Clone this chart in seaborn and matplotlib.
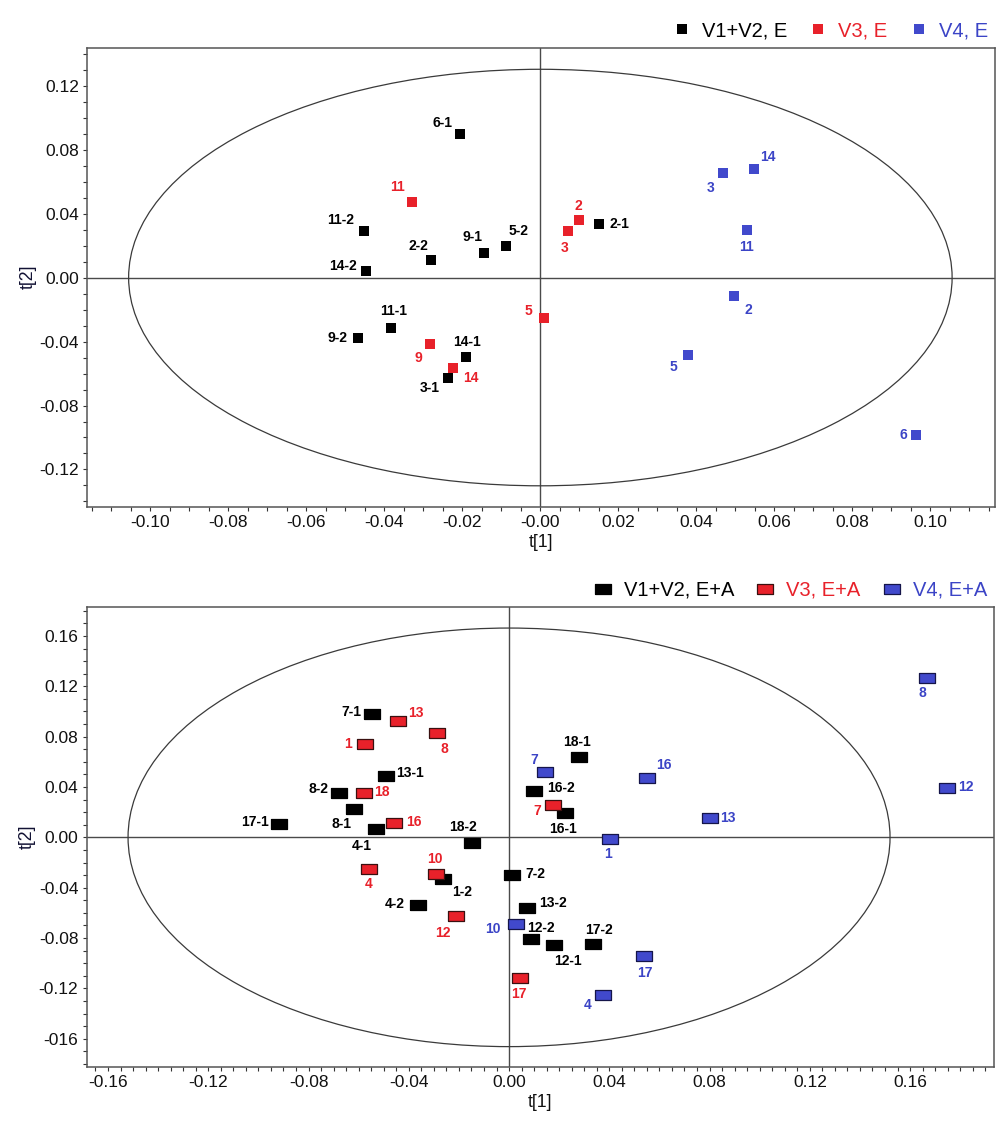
import numpy as np
import pandas as pd
import matplotlib
matplotlib.use("Agg")
import matplotlib.pyplot as plt
from matplotlib.patches import Ellipse
from matplotlib.lines import Line2D
from matplotlib.ticker import MultipleLocator, FixedLocator, FixedFormatter
import seaborn as sns

# ---------------- DATA ----------------
# Top panel (E)
top_v12_names = ["6-1", "11-2", "14-2", "2-2", "9-1", "5-2", "2-1", "11-1", "9-2", "14-1", "3-1"]
top_v12_t1 = [-0.0206, -0.0452, -0.0447, -0.0280, -0.0144, -0.0088, 0.0151, -0.0384, -0.0467, -0.0191, -0.0236]
top_v12_t2 = [0.0900, 0.0288, 0.0041, 0.0108, 0.0155, 0.0198, 0.0336, -0.0314, -0.0381, -0.0499, -0.0628]

top_v3_names = ["11", "9", "14", "2", "3", "5"]
top_v3_t1 = [-0.0328, -0.0283, -0.0223, 0.0099, 0.0070, 0.0009]
top_v3_t2 = [0.0473, -0.0418, -0.0564, 0.0357, 0.0293, -0.0252]

top_v4_names = ["3", "14", "11", "2", "5", "6"]
top_v4_t1 = [0.0468, 0.0547, 0.0529, 0.0496, 0.0378, 0.0963]
top_v4_t2 = [0.0656, 0.0680, 0.0295, -0.0116, -0.0484, -0.0984]

# Bottom panel (E+A)
bot_v12_names = ["7-1", "13-1", "8-2", "8-1", "17-1", "4-1", "18-2", "1-2", "4-2",
                 "18-1", "16-2", "16-1", "7-2", "13-2", "12-2", "12-1", "17-2"]
bot_v12_t1 = [-0.0545, -0.0492, -0.0678, -0.0620, -0.0916, -0.0532, -0.0146, -0.0262, -0.0364,
              0.0281, 0.0101, 0.0223, 0.0012, 0.0071, 0.0088, 0.0180, 0.0336]
bot_v12_t2 = [0.0981, 0.0489, 0.0350, 0.0227, 0.0105, 0.0068, -0.0045, -0.0333, -0.0540,
              0.0640, 0.0372, 0.0196, -0.0296, -0.0560, -0.0810, -0.0856, -0.0847]

bot_v3_names = ["13", "8", "1", "18", "16", "4", "10", "12", "7", "17"]
bot_v3_t1 = [-0.0443, -0.0287, -0.0573, -0.0578, -0.0458, -0.0558, -0.0290, -0.0211, 0.0177, 0.0044]
bot_v3_t2 = [0.0924, 0.0833, 0.0745, 0.0355, 0.0111, -0.0253, -0.0290, -0.0625, 0.0256, -0.1117]

bot_v4_names = ["7", "16", "13", "1", "8", "12", "10", "17", "4"]
bot_v4_t1 = [0.0144, 0.0549, 0.0803, 0.0403, 0.1666, 0.1746, 0.0027, 0.0540, 0.0374]
bot_v4_t2 = [0.0523, 0.0475, 0.0154, -0.0017, 0.1265, 0.0395, -0.0691, -0.0941, -0.1251]

top_groups = ["V1+V2, E", "V3, E", "V4, E"]
bot_groups = ["V1+V2, E+A", "V3, E+A", "V4, E+A"]

top_xticks = [-0.10, -0.08, -0.06, -0.04, -0.02, 0.0, 0.02, 0.04, 0.06, 0.08, 0.10]
top_xticklabels = ["-0.10", "-0.08", "-0.06", "-0.04", "-0.02", "-0.00", "0.02", "0.04", "0.06", "0.08", "0.10"]
top_yticks = [-0.12, -0.08, -0.04, 0.0, 0.04, 0.08, 0.12]
top_yticklabels = ["-0.12", "-0.08", "-0.04", "0.00", "0.04", "0.08", "0.12"]
bot_xticks = [-0.16, -0.12, -0.08, -0.04, 0.0, 0.04, 0.08, 0.12, 0.16]
bot_xticklabels = ["-0.16", "-0.12", "-0.08", "-0.04", "0.00", "0.04", "0.08", "0.12", "0.16"]
bot_yticks = [-0.16, -0.12, -0.08, -0.04, 0.0, 0.04, 0.08, 0.12, 0.16]
bot_yticklabels = ["-016", "-0.12", "-0.08", "-0.04", "0.00", "0.04", "0.08", "0.12", "0.16"]

# Hotelling ellipse semi-axes
top_ellipse = (0.1056, 0.1302)
bot_ellipse = (0.1520, 0.1663)

# ---------------- STYLE (label offsets in pixels: dx right, dy down) ----------------
top_v12_off = [(-18, -11), (-24, -11), (-23, -5), (-13, -14), (-12, -16), (12, -15), (20, 0),
               (3, -17), (-21, 0), (1, -15), (-19, 10)]
top_v3_off = [(-15, -15), (-12, 14), (17, 10), (-1, -14), (-3, 17), (-15, -7)]
top_v4_off = [(-12, 15), (14, -12), (0, 17), (15, 14), (-14, 12), (-12, 0)]
bot_v12_off = [(-21, -2), (24, -3), (-21, -4), (-12, 15), (-24, -2), (-14, 17), (-10, -16), (19, 13),
               (-23, -1), (-2, -15), (27, -3), (-2, 16), (23, -1), (26, -5), (10, -11), (14, 16), (6, -14)]
bot_v3_off = [(18, -8), (7, 16), (-17, 0), (18, -1), (20, -1), (-1, 15), (-1, -15), (-13, 17), (-16, 6), (-1, 16)]
bot_v4_off = [(-11, -12), (17, -13), (18, 0), (-2, 15), (-4, 15), (19, -1), (-23, 5), (0, 17), (-15, 10)]

fill_colors = ["#000000", "#e8212a", "#4149cc"]
edge_colors = ["#000000", "#3a1010", "#15154a"]
text_colors = ["#000000", "#e8212a", "#3b44c6"]

DPI = 100
PX = 72.0 / DPI

sns.set_theme(style="white")
plt.rcParams["font.family"] = ["Liberation Sans", "DejaVu Sans"]

fig = plt.figure(figsize=(10, 11.21), dpi=DPI)
ax_top = fig.add_axes([0.0873, 0.5478, 0.9077, 0.4098])
ax_bot = fig.add_axes([0.0867, 0.0485, 0.9076, 0.4101])

rect_marker = [(-1, -0.58), (1, -0.58), (1, 0.58), (-1, 0.58), (-1, -0.58)]


def make_df(groups, names_list, t1_list, t2_list, off_list):
    rows = []
    for g, names, t1, t2, off in zip(groups, names_list, t1_list, t2_list, off_list):
        for n, a, b, o in zip(names, t1, t2, off):
            rows.append({"group": g, "name": n, "t1": a, "t2": b, "dx": o[0], "dy": o[1]})
    return pd.DataFrame(rows)


def draw_panel(ax, df, groups, ell, xlim, ylim, xt, xtl, yt, ytl, marker, msize, edge_lw, hmsize, hpad):
    ax.axhline(0, color="#4a4a4a", lw=1.0, zorder=1)
    ax.axvline(0, color="#4a4a4a", lw=1.0, zorder=1)
    ax.add_patch(Ellipse((0, 0), 2 * ell[0], 2 * ell[1], fill=False, edgecolor="#3a3a3a", lw=0.9, zorder=1))
    palette = dict(zip(groups, fill_colors))
    for i, g in enumerate(groups):
        sub = df[df["group"] == g]
        sns.scatterplot(data=sub, x="t1", y="t2", color=fill_colors[i], marker=marker, s=msize,
                        edgecolor=edge_colors[i], linewidth=edge_lw, ax=ax, legend=False, zorder=3)
        for _, r in sub.iterrows():
            ax.annotate(r["name"], (r["t1"], r["t2"]), xytext=(r["dx"] * PX, -r["dy"] * PX),
                        textcoords="offset points", ha="center", va="center",
                        fontsize=10, fontweight="bold", color=text_colors[i], zorder=4)
    ax.set_xlim(*xlim)
    ax.set_ylim(*ylim)
    ax.xaxis.set_major_locator(FixedLocator(xt))
    ax.xaxis.set_major_formatter(FixedFormatter(xtl))
    ax.yaxis.set_major_locator(FixedLocator(yt))
    ax.yaxis.set_major_formatter(FixedFormatter(ytl))
    ax.xaxis.set_minor_locator(MultipleLocator(0.005))
    ax.yaxis.set_minor_locator(MultipleLocator(0.01))
    ax.tick_params(axis="both", which="both", direction="out", length=3.0, width=0.8,
                   color="#333333", bottom=True, left=True, top=False, right=False)
    ax.tick_params(axis="both", which="major", labelsize=12.5, labelcolor="#111111", pad=3)
    for sp in ax.spines.values():
        sp.set_color("#555555")
        sp.set_linewidth(1.1)
        sp.set_visible(True)
    ax.set_xlabel("t[1]", fontsize=12.8, color="#111111", labelpad=3)
    ax.set_ylabel("t[2]", fontsize=12.8, color="#111133", labelpad=2)
    handles = [Line2D([0], [0], linestyle="none", marker=marker, markersize=hmsize,
                      markerfacecolor=fill_colors[i], markeredgecolor=edge_colors[i],
                      markeredgewidth=edge_lw, label=g) for i, g in enumerate(groups)]
    leg = ax.legend(handles=handles, loc="lower right", bbox_to_anchor=(1.0, 1.0), ncol=3,
                    frameon=False, fontsize=14.5, handlelength=1.0, handletextpad=hpad,
                    columnspacing=1.05, borderpad=0.0, borderaxespad=0.35)
    for t, c in zip(leg.get_texts(), text_colors):
        t.set_color(c)


df_top = make_df(top_groups,
                 [top_v12_names, top_v3_names, top_v4_names],
                 [top_v12_t1, top_v3_t1, top_v4_t1],
                 [top_v12_t2, top_v3_t2, top_v4_t2],
                 [top_v12_off, top_v3_off, top_v4_off])
df_bot = make_df(bot_groups,
                 [bot_v12_names, bot_v3_names, bot_v4_names],
                 [bot_v12_t1, bot_v3_t1, bot_v4_t1],
                 [bot_v12_t2, bot_v3_t2, bot_v4_t2],
                 [bot_v12_off, bot_v3_off, bot_v4_off])

draw_panel(ax_top, df_top, top_groups, top_ellipse, (-0.1162, 0.1166), (-0.1434, 0.1438),
           top_xticks, top_xticklabels, top_yticks, top_yticklabels,
           "s", 59, 0, 7.7, 0.5)
draw_panel(ax_bot, df_bot, bot_groups, bot_ellipse, (-0.1685, 0.1936), (-0.1822, 0.1831),
           bot_xticks, bot_xticklabels, bot_yticks, bot_yticklabels,
           rect_marker, 125, 0.9, 11.2, 0.55)

fig.savefig("out.png", dpi=DPI)
